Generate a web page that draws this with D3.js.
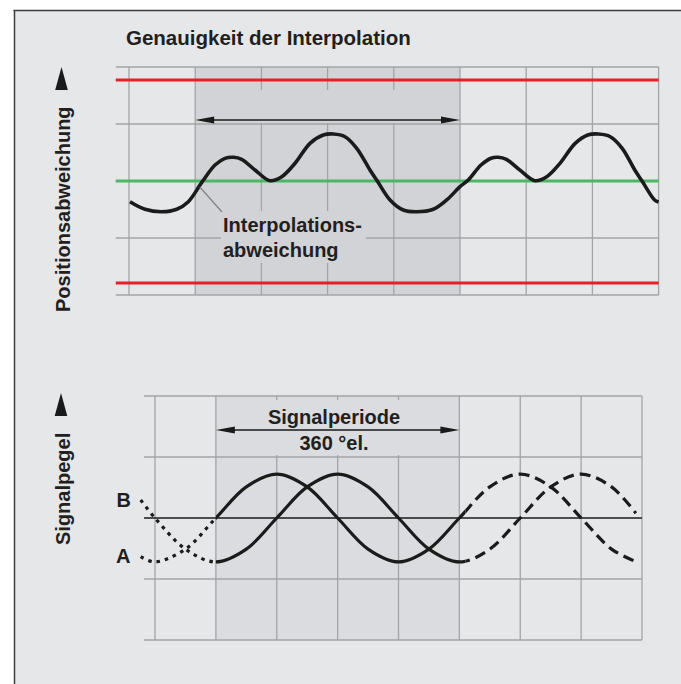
<!DOCTYPE html>
<html><head><meta charset="utf-8">
<script src="https://cdn.jsdelivr.net/npm/d3@7"></script>
<style>html,body{margin:0;padding:0;background:#fff}svg{display:block}text{font-family:"Liberation Sans",Arial,Helvetica,sans-serif;font-weight:bold;fill:#231f20}</style>
</head><body><svg id="c" width="681" height="684"></svg>
<script>
// ---- data ----
const gridX = [0,1,2,3,4,5,6,7,8];
const gridY = [-2,-1,0,1,2];
const limitUpper = 1.77, limitLower = -1.79;
// top curve: position deviation (grid units) vs position (grid divisions)
const devX = [0.015,0.242,0.494,0.721,0.896,1.107,1.299,1.450,1.576,1.702,1.903,2.130,2.307,2.508,2.734,2.935,3.086,3.263,3.440,3.640,3.751,3.943,4.143,4.346,4.597,4.799,5.0,5.125,5.317,5.47,5.574,5.70,5.906,6.13,6.31,6.51,6.74,6.93,7.09,7.27,7.45,7.64,7.75,7.94,8.0];
const devY = [-0.363,-0.496,-0.539,-0.496,-0.363,-0.012,0.281,0.398,0.416,0.381,0.193,0.005,0.075,0.311,0.661,0.807,0.825,0.777,0.574,0.193,0.0,-0.333,-0.509,-0.539,-0.496,-0.333,-0.1,0.018,0.281,0.40,0.416,0.38,0.19,0.005,0.075,0.31,0.66,0.807,0.825,0.777,0.574,0.193,0.0,-0.333,-0.37];
// bottom: signal levels A and B
const sigU = [-0.235,0,0.5,1,1.5,2,2.5,3,3.5,4,4.5,5,5.5,6,6.5,7,7.5,7.9];
const sigA = [-0.634,-0.72,-0.51,0,0.51,0.72,0.51,0,-0.51,-0.72,-0.51,0,0.51,0.72,0.51,0,-0.51,-0.716];
const sigB = [0.295,0,-0.51,-0.72,-0.51,0,0.51,0.72,0.51,0,-0.51,-0.72,-0.51,0,0.51,0.72,0.51,0.077];
const periodStart = 1, periodEnd = 5;
const solidStart = 1, solidEnd = 5.1;
const title = "Genauigkeit der Interpolation";
const yLabelTop = "Positionsabweichung";
const yLabelBottom = "Signalpegel";
const devLabel = ["Interpolations-","abweichung"];
const periodLabel = ["Signalperiode","360 °el."];
const seriesNames = ["A","B"];

// ---- drawing ----
const svg = d3.select("#c");
const W = 681, H = 684;
const gridColor = "#a4a4a6";
const bg = "#e6e7e9", shadeTop = "#d2d3d6", shadeBot = "#dbdcdf";
svg.append("rect").attr("width",W).attr("height",H).attr("fill","#fff");
svg.append("rect").attr("x",14).attr("y",10).attr("width",W-14).attr("height",H-10).attr("fill",bg);
svg.append("line").attr("x1",13.5).attr("x2",W).attr("y1",10.5).attr("y2",10.5).attr("stroke","#3c3c3c").attr("stroke-width",1.5);
svg.append("line").attr("x1",14.5).attr("x2",14.5).attr("y1",10).attr("y2",H).attr("stroke","#3c3c3c").attr("stroke-width",1.5);

svg.append("text").attr("x",126).attr("y",45).attr("font-size",20.5).text(title);

function arrow(g, x1, x2, y, len, hw){
  g.append("line").attr("x1",x1+len-2).attr("x2",x2-len+2).attr("y1",y).attr("y2",y).attr("stroke","#1a1a1a").attr("stroke-width",1.6);
  g.append("path").attr("d",`M${x1},${y}L${x1+len},${y-hw}L${x1+len},${y+hw}Z`).attr("fill","#1a1a1a");
  g.append("path").attr("d",`M${x2},${y}L${x2-len},${y-hw}L${x2-len},${y+hw}Z`).attr("fill","#1a1a1a");
}
function yAxisLabel(text, x, yStart, triTop){
  svg.append("text").attr("transform",`translate(${x},${yStart}) rotate(-90)`).attr("font-size",20).text(text);
  svg.append("path").attr("d",`M${x-8.5},${triTop}L${x-14.8},${triTop+23}L${x-2.2},${triTop+23}Z`).attr("fill","#1a1a1a");
}

// ===== top chart =====
const xT = d3.scaleLinear().domain([0,8]).range([129,658.6]);
const yT = d3.scaleLinear().domain([-2,2]).range([295,67]);
const gt = svg.append("g");
gt.append("rect").attr("x",xT(periodStart)).attr("y",yT(2)).attr("width",xT(periodEnd)-xT(periodStart)).attr("height",yT(-2)-yT(2)).attr("fill",shadeTop);
gt.selectAll(".hy").data(gridY).join("line").attr("x1",xT(-0.2)).attr("x2",xT(8)).attr("y1",d=>yT(d)).attr("y2",d=>yT(d)).attr("stroke",gridColor).attr("stroke-width",1.3);
gt.selectAll(".vx").data(gridX).join("line").attr("x1",d=>xT(d)).attr("x2",d=>xT(d)).attr("y1",yT(2)).attr("y2",yT(-2)).attr("stroke",gridColor).attr("stroke-width",1.3);
// band behind the arrow
gt.append("rect").attr("x",xT(periodStart)+1.5).attr("y",90).attr("width",xT(periodEnd)-xT(periodStart)-3).attr("height",33).attr("fill",shadeTop);
// label background
gt.append("rect").attr("x",221).attr("y",211).attr("width",145).attr("height",52).attr("fill",shadeTop);
// limits
gt.selectAll(".lim").data([limitUpper,limitLower]).join("line").attr("x1",xT(-0.2)).attr("x2",xT(8)).attr("y1",d=>yT(d)).attr("y2",d=>yT(d)).attr("stroke","#e42128").attr("stroke-width",3);
gt.append("line").attr("x1",xT(-0.2)).attr("x2",xT(8)).attr("y1",yT(0)).attr("y2",yT(0)).attr("stroke","#4cb867").attr("stroke-width",3);
arrow(gt, xT(periodStart), xT(periodEnd), yT(1.07), 19, 3.5);
const devPts = devX.map((x,i)=>[x,devY[i]]);
gt.append("path").attr("d",d3.line().x(d=>xT(d[0])).y(d=>yT(d[1])).curve(d3.curveCatmullRom.alpha(0.5))(devPts))
  .attr("fill","none").attr("stroke","#1b1b1b").attr("stroke-width",3.6).attr("stroke-linejoin","round");
gt.append("line").attr("x1",xT(1.07)).attr("y1",yT(-0.105)).attr("x2",xT(1.405)).attr("y2",yT(-0.544)).attr("stroke","#808080").attr("stroke-width",1.2);
gt.append("text").attr("x",223).attr("y",231.5).attr("font-size",20).text(devLabel[0]);
gt.append("text").attr("x",223).attr("y",256.5).attr("font-size",20).text(devLabel[1]);
yAxisLabel(yLabelTop, 70, 312, 67);

// ===== bottom chart =====
const xB = d3.scaleLinear().domain([0,8]).range([155,642]);
const yB = d3.scaleLinear().domain([-2,2]).range([640,396]);
const gb = svg.append("g");
gb.append("rect").attr("x",xB(periodStart)).attr("y",yB(2)).attr("width",xB(periodEnd)-xB(periodStart)).attr("height",yB(-2)-yB(2)).attr("fill",shadeBot);
gb.selectAll(".hy").data(gridY.filter(d=>d!==0)).join("line").attr("x1",xB(-0.18)).attr("x2",xB(8)).attr("y1",d=>yB(d)).attr("y2",d=>yB(d)).attr("stroke",gridColor).attr("stroke-width",1.3);
gb.selectAll(".vx").data(gridX).join("line").attr("x1",d=>xB(d)).attr("x2",d=>xB(d)).attr("y1",yB(2)).attr("y2",yB(-2)).attr("stroke",gridColor).attr("stroke-width",1.3);
gb.append("rect").attr("x",xB(periodStart)+1.5).attr("y",400).attr("width",xB(periodEnd)-xB(periodStart)-3).attr("height",55).attr("fill",shadeBot);
gb.append("line").attr("x1",xB(-0.18)).attr("x2",xB(8)).attr("y1",yB(0)).attr("y2",yB(0)).attr("stroke","#1a1a1a").attr("stroke-width",1.5);
arrow(gb, xB(periodStart), xB(periodEnd), 430, 19, 3.5);
gb.append("text").attr("x",334).attr("y",424).attr("text-anchor","middle").attr("font-size",20).text(periodLabel[0]);
gb.append("text").attr("x",334).attr("y",450).attr("text-anchor","middle").attr("font-size",20).text(periodLabel[1]);

const defs = svg.append("defs");
const segs = [
  {id:"cDot", a:-1, b:solidStart, dash:"3.5,5"},
  {id:"cSolid", a:solidStart, b:solidEnd, dash:null},
  {id:"cDash", a:solidEnd, b:9, dash:"11,6"}
];
segs.forEach(s=>{
  defs.append("clipPath").attr("id",s.id).append("rect").attr("x",xB(s.a)).attr("y",0).attr("width",xB(s.b)-xB(s.a)).attr("height",H);
});
const sigLine = d3.line().x(d=>xB(d[0])).y(d=>yB(d[1])).curve(d3.curveCatmullRom.alpha(0.5));
[sigA, sigB].forEach(vals=>{
  const pts = sigU.map((u,i)=>[u,vals[i]]);
  segs.forEach(s=>{
    const p = gb.append("path").attr("d",sigLine(pts)).attr("clip-path",`url(#${s.id})`)
      .attr("fill","none").attr("stroke","#1b1b1b").attr("stroke-width",3.2);
    if (s.dash) p.attr("stroke-dasharray",s.dash);
  });
});
gb.append("text").attr("x",116.5).attr("y",507).attr("font-size",20).text(seriesNames[1]);
gb.append("text").attr("x",116).attr("y",563).attr("font-size",20).text(seriesNames[0]);
yAxisLabel(yLabelBottom, 69.5, 545, 393);
</script></body></html>
